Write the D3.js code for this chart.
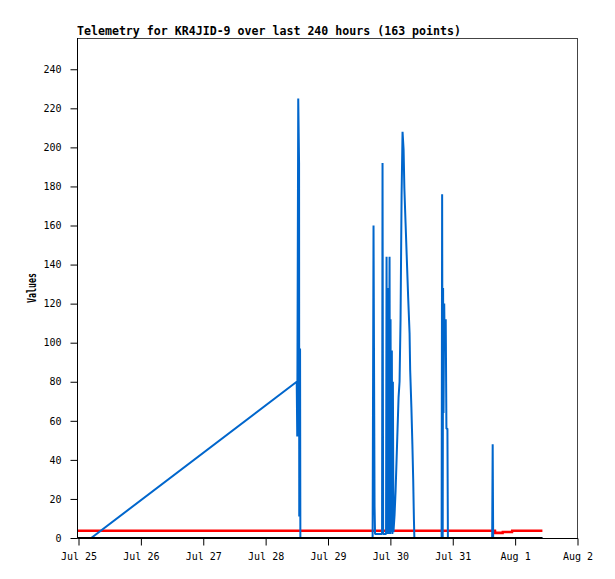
<!DOCTYPE html>
<html>
<head>
<meta charset="utf-8">
<script src="https://cdn.jsdelivr.net/npm/d3@7"></script>
<style>
  body { margin: 0; background: #fff; }
  svg { display: block; }
  text { font-family: "DejaVu Sans Mono", monospace; fill: #000; }
</style>
</head>
<body>
<svg id="chart" width="615" height="579"></svg>
<script>
// telemetry series (UTC)
const blueTimes = [
  '2025-07-22 10:30', '2025-07-25 04:53', '2025-07-28 11:58', '2025-07-28 12:10',
  '2025-07-28 12:33', '2025-07-28 12:52', '2025-07-28 12:56', '2025-07-28 13:15',
  '2025-07-28 13:22', '2025-07-29 17:10', '2025-07-29 17:31', '2025-07-29 17:55',
  '2025-07-29 18:06', '2025-07-29 20:48', '2025-07-29 20:59', '2025-07-29 21:13',
  '2025-07-29 22:20', '2025-07-29 22:32', '2025-07-29 22:46', '2025-07-29 23:09',
  '2025-07-29 23:20', '2025-07-29 23:41', '2025-07-29 23:53', '2025-07-30 00:04',
  '2025-07-30 00:18', '2025-07-30 00:34', '2025-07-30 00:46', '2025-07-30 00:58',
  '2025-07-30 01:11', '2025-07-30 01:37', '2025-07-30 02:00', '2025-07-30 02:23',
  '2025-07-30 02:46', '2025-07-30 03:09', '2025-07-30 03:32', '2025-07-30 03:55',
  '2025-07-30 04:19', '2025-07-30 04:41', '2025-07-30 05:05', '2025-07-30 05:23',
  '2025-07-30 05:51', '2025-07-30 06:21', '2025-07-30 06:51', '2025-07-30 07:23',
  '2025-07-30 07:37', '2025-07-30 08:05', '2025-07-30 08:28', '2025-07-30 08:47',
  '2025-07-30 09:03', '2025-07-30 09:14', '2025-07-30 19:43', '2025-07-30 19:55',
  '2025-07-30 20:08', '2025-07-30 20:17', '2025-07-30 20:27', '2025-07-30 20:43',
  '2025-07-30 20:55', '2025-07-30 21:18', '2025-07-30 21:34', '2025-07-30 21:57',
  '2025-07-30 22:08', '2025-07-31 15:10', '2025-07-31 15:22', '2025-07-31 15:33',
  '2025-08-01 10:30'
];
const blueValues = [
  0, 0, 80, 52,
  225, 192, 11, 97,
  0, 0, 160, 16,
  2, 2, 192, 2,
  2, 144, 2, 128,
  2, 144, 2, 112,
  3, 96, 2, 80,
  3, 12, 24, 40,
  56, 72, 80, 112,
  176, 208, 199, 179,
  161, 142, 123, 105,
  86, 67, 48, 30,
  10, 0, 0, 176,
  0, 128, 64, 120,
  96, 112, 56, 56,
  0, 0, 48, 0,
  0
];

const redTimes = ['2025-07-22 10:30', '2025-07-31 16:15', '2025-07-31 16:20', '2025-07-31 19:12',
  '2025-07-31 19:15', '2025-07-31 22:48', '2025-07-31 22:52', '2025-08-01 10:30'];
const redValues = [3.7, 3.7, 2.6, 2.6, 3.1, 3.1, 3.7, 3.7];

const blackTimes = ['2025-07-22 10:30', '2025-08-01 10:30'];
const blackValues = [0, 0];

const yTicks = [0, 20, 40, 60, 80, 100, 120, 140, 160, 180, 200, 220, 240];
const xStart = '2025-07-25 00:00';
const xEnd = '2025-08-02 00:00';

const parse = d3.utcParse('%Y-%m-%d %H:%M');
const zip = (ts, vs) => ts.map((t, i) => ({ t: parse(t), v: vs[i] }));

const svg = d3.select('#chart');
const plotL = 78, plotR = 578, plotT = 38, plotB = 538;

const x = d3.scaleUtc().domain([parse(xStart), parse(xEnd)]).range([plotL + 0.5, plotR - 0.5]);
const y = d3.scaleLinear().domain([0, 256]).range([plotB, plotT]);

svg.append('clipPath').attr('id', 'plot')
  .append('rect').attr('x', plotL).attr('y', plotT).attr('width', plotR - plotL).attr('height', plotB - plotT);

// frame
svg.append('rect')
  .attr('x', plotL - 0.5).attr('y', plotT + 0.5)
  .attr('width', plotR - plotL).attr('height', plotB - plotT)
  .attr('fill', 'none').attr('stroke', '#444').attr('stroke-width', 1);

const line = d3.line().x(d => x(d.t)).y(d => y(d.v));
const g = svg.append('g').attr('clip-path', 'url(#plot)');

g.append('path').datum(zip(redTimes, redValues))
  .attr('d', line).attr('fill', 'none').attr('stroke', '#ff0000').attr('stroke-width', 2.6);
g.append('path').datum(zip(blueTimes, blueValues))
  .attr('d', line).attr('fill', 'none').attr('stroke', '#0066cc').attr('stroke-width', 2)
  .attr('stroke-linejoin', 'miter').attr('stroke-miterlimit', 1);
g.append('path').datum(zip(blackTimes, blackValues))
  .attr('d', line).attr('fill', 'none').attr('stroke', '#000').attr('stroke-width', 2.2);

// axes
const yAxis = svg.append('g').attr('transform', `translate(${plotL - 0.5},0)`)
  .call(d3.axisLeft(y).tickValues(yTicks).tickSize(7).tickPadding(9));
const xAxis = svg.append('g').attr('transform', `translate(0,${plotB + 0.5})`)
  .call(d3.axisBottom(x).ticks(d3.utcDay.every(1)).tickFormat(d3.utcFormat('%b %-d')).tickSize(7).tickPadding(7));

[yAxis, xAxis].forEach(a => {
  a.select('.domain').attr('stroke', '#000');
  a.selectAll('.tick line').attr('stroke', '#000');
  a.selectAll('text').attr('font-family', '"DejaVu Sans Mono", monospace').attr('font-size', 10).attr('fill', '#000');
});
yAxis.select('.domain').attr('d', `M0,${plotT}V${plotB}`);
xAxis.select('.domain').attr('d', `M${plotL},0H${plotR}`);

// titles
svg.append('text')
  .attr('x', 77).attr('y', 34.5)
  .attr('font-size', 11.4).attr('font-weight', 'bold')
  .attr('textLength', 384).attr('lengthAdjust', 'spacingAndGlyphs')
  .text('Telemetry for KR4JID-9 over last 240 hours (163 points)');

svg.append('text')
  .attr('transform', 'translate(35.5,288) rotate(-90)')
  .attr('text-anchor', 'middle')
  .attr('font-size', 11.5).attr('font-weight', 'bold')
  .attr('textLength', 30).attr('lengthAdjust', 'spacingAndGlyphs')
  .text('Values');
</script>
</body>
</html>
